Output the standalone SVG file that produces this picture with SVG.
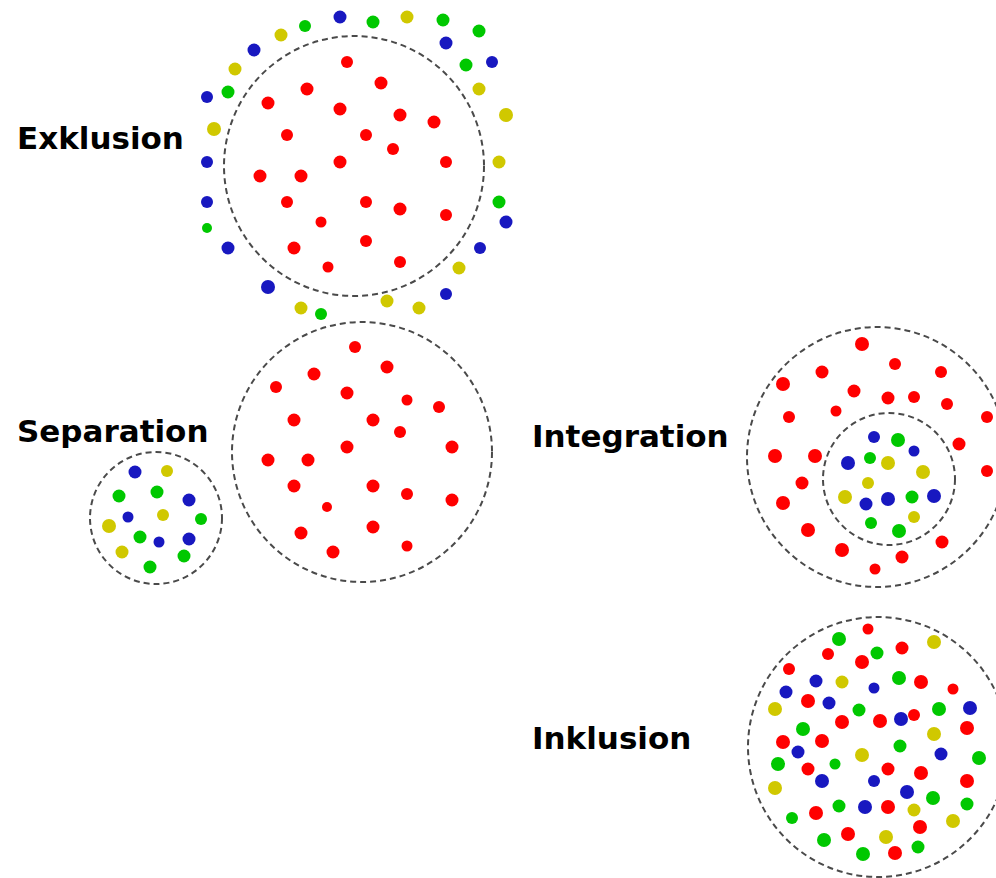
<svg xmlns="http://www.w3.org/2000/svg" width="996" height="878" viewBox="0 0 996 878">
<style>
.ring{fill:none;stroke:#4a4a4a;stroke-width:2;stroke-dasharray:6 4}
.lbl{font-family:"DejaVu Sans",sans-serif;font-weight:bold;font-size:31px;fill:#000}
.r{fill:#ff0000}.g{fill:#00c800}.b{fill:#1818c0}.y{fill:#d0c800}
circle.r,circle.g,circle.b,circle.y{stroke:none}
</style>
<rect width="996" height="878" fill="#fff"/>
<g id="exklusion">
<circle class="ring" cx="354" cy="166" r="130"/>
<text class="lbl" x="17" y="149">Exklusion</text>
<circle class="b" cx="340" cy="17" r="6.5"/><circle class="g" cx="373" cy="22" r="6.5"/><circle class="y" cx="407" cy="17" r="6.5"/><circle class="g" cx="443" cy="20" r="6.5"/><circle class="g" cx="479" cy="31" r="6.5"/><circle class="g" cx="305" cy="26" r="6"/><circle class="y" cx="281" cy="35" r="6.5"/><circle class="b" cx="254" cy="50" r="6.5"/><circle class="b" cx="446" cy="43" r="6.5"/><circle class="y" cx="235" cy="69" r="6.5"/><circle class="g" cx="466" cy="65" r="6.5"/><circle class="b" cx="492" cy="62" r="6"/><circle class="b" cx="207" cy="97" r="6"/><circle class="g" cx="228" cy="92" r="6.5"/><circle class="y" cx="479" cy="89" r="6.5"/><circle class="y" cx="506" cy="115" r="7"/><circle class="y" cx="214" cy="129" r="7"/><circle class="b" cx="207" cy="162" r="6"/><circle class="y" cx="499" cy="162" r="6.5"/><circle class="b" cx="207" cy="202" r="6"/><circle class="g" cx="499" cy="202" r="6.5"/><circle class="b" cx="506" cy="222" r="6.5"/><circle class="g" cx="207" cy="228" r="5"/><circle class="b" cx="228" cy="248" r="6.5"/><circle class="b" cx="480" cy="248" r="6"/><circle class="y" cx="459" cy="268" r="6.5"/><circle class="b" cx="268" cy="287" r="7"/><circle class="b" cx="446" cy="294" r="6"/><circle class="y" cx="387" cy="301" r="6.5"/><circle class="y" cx="301" cy="308" r="6.5"/><circle class="g" cx="321" cy="314" r="6"/><circle class="y" cx="419" cy="308" r="6.5"/>
<circle class="r" cx="347" cy="62" r="6"/><circle class="r" cx="381" cy="83" r="6.5"/><circle class="r" cx="307" cy="89" r="6.5"/><circle class="r" cx="268" cy="103" r="6.5"/><circle class="r" cx="340" cy="109" r="6.5"/><circle class="r" cx="400" cy="115" r="6.5"/><circle class="r" cx="434" cy="122" r="6.5"/><circle class="r" cx="287" cy="135" r="6"/><circle class="r" cx="366" cy="135" r="6"/><circle class="r" cx="393" cy="149" r="6"/><circle class="r" cx="340" cy="162" r="6.5"/><circle class="r" cx="446" cy="162" r="6"/><circle class="r" cx="260" cy="176" r="6.5"/><circle class="r" cx="301" cy="176" r="6.5"/><circle class="r" cx="287" cy="202" r="6"/><circle class="r" cx="366" cy="202" r="6"/><circle class="r" cx="400" cy="209" r="6.5"/><circle class="r" cx="446" cy="215" r="6"/><circle class="r" cx="321" cy="222" r="5.5"/><circle class="r" cx="366" cy="241" r="6"/><circle class="r" cx="294" cy="248" r="6.5"/><circle class="r" cx="400" cy="262" r="6"/><circle class="r" cx="328" cy="267" r="5.5"/>
</g>
<g id="separation">
<circle class="ring" cx="362" cy="452" r="130"/>
<circle class="ring" cx="156" cy="518" r="66"/>
<text class="lbl" x="17" y="442">Separation</text>
<circle class="r" cx="355" cy="347" r="6"/><circle class="r" cx="387" cy="367" r="6.5"/><circle class="r" cx="314" cy="374" r="6.5"/><circle class="r" cx="276" cy="387" r="6"/><circle class="r" cx="347" cy="393" r="6.5"/><circle class="r" cx="407" cy="400" r="5.5"/><circle class="r" cx="439" cy="407" r="6"/><circle class="r" cx="294" cy="420" r="6.5"/><circle class="r" cx="373" cy="420" r="6.5"/><circle class="r" cx="400" cy="432" r="6"/><circle class="r" cx="347" cy="447" r="6.5"/><circle class="r" cx="452" cy="447" r="6.5"/><circle class="r" cx="268" cy="460" r="6.5"/><circle class="r" cx="308" cy="460" r="6.5"/><circle class="r" cx="294" cy="486" r="6.5"/><circle class="r" cx="373" cy="486" r="6.5"/><circle class="r" cx="407" cy="494" r="6"/><circle class="r" cx="452" cy="500" r="6.5"/><circle class="r" cx="327" cy="507" r="5"/><circle class="r" cx="373" cy="527" r="6.5"/><circle class="r" cx="301" cy="533" r="6.5"/><circle class="r" cx="333" cy="552" r="6.5"/><circle class="r" cx="407" cy="546" r="5.5"/>
<circle class="b" cx="135" cy="472" r="6.5"/><circle class="y" cx="167" cy="471" r="6"/><circle class="g" cx="119" cy="496" r="6.5"/><circle class="g" cx="157" cy="492" r="6.5"/><circle class="b" cx="189" cy="500" r="6.5"/><circle class="b" cx="128" cy="517" r="5.5"/><circle class="y" cx="163" cy="515" r="6"/><circle class="g" cx="201" cy="519" r="6"/><circle class="y" cx="109" cy="526" r="7"/><circle class="g" cx="140" cy="537" r="6.5"/><circle class="b" cx="159" cy="542" r="5.5"/><circle class="b" cx="189" cy="539" r="6.5"/><circle class="y" cx="122" cy="552" r="6.5"/><circle class="g" cx="184" cy="556" r="6.5"/><circle class="g" cx="150" cy="567" r="6.5"/>
</g>
<g id="integration">
<circle class="ring" cx="877" cy="457" r="130"/>
<circle class="ring" cx="889" cy="479" r="66"/>
<text class="lbl" x="532" y="447">Integration</text>
<circle class="r" cx="862" cy="344" r="7"/><circle class="r" cx="895" cy="364" r="6"/><circle class="r" cx="822" cy="372" r="6.5"/><circle class="r" cx="941" cy="372" r="6"/><circle class="r" cx="783" cy="384" r="7"/><circle class="r" cx="854" cy="391" r="6.5"/><circle class="r" cx="888" cy="398" r="6.5"/><circle class="r" cx="914" cy="397" r="6"/><circle class="r" cx="947" cy="404" r="6"/><circle class="r" cx="836" cy="411" r="5.5"/><circle class="r" cx="789" cy="417" r="6"/><circle class="r" cx="987" cy="417" r="6"/><circle class="r" cx="959" cy="444" r="6.5"/><circle class="r" cx="775" cy="456" r="7"/><circle class="r" cx="815" cy="456" r="7"/><circle class="r" cx="987" cy="471" r="6"/><circle class="r" cx="802" cy="483" r="6.5"/><circle class="r" cx="783" cy="503" r="7"/><circle class="r" cx="808" cy="530" r="7"/><circle class="r" cx="842" cy="550" r="7"/><circle class="r" cx="942" cy="542" r="6.5"/><circle class="r" cx="902" cy="557" r="6.5"/><circle class="r" cx="875" cy="569" r="5.5"/>
<circle class="b" cx="874" cy="437" r="6"/><circle class="g" cx="898" cy="440" r="7"/><circle class="b" cx="914" cy="451" r="5.5"/><circle class="g" cx="870" cy="458" r="6"/><circle class="b" cx="848" cy="463" r="7"/><circle class="y" cx="888" cy="463" r="7"/><circle class="y" cx="923" cy="472" r="7"/><circle class="y" cx="868" cy="483" r="6"/><circle class="y" cx="845" cy="497" r="7"/><circle class="b" cx="888" cy="499" r="7"/><circle class="g" cx="912" cy="497" r="6.5"/><circle class="b" cx="934" cy="496" r="7"/><circle class="b" cx="866" cy="504" r="6.5"/><circle class="y" cx="914" cy="517" r="6"/><circle class="g" cx="871" cy="523" r="6"/><circle class="g" cx="899" cy="531" r="7"/>
</g>
<g id="inklusion">
<circle class="ring" cx="878" cy="747" r="130"/>
<text class="lbl" x="532" y="749">Inklusion</text>
<circle class="r" cx="868" cy="629" r="5.5"/><circle class="g" cx="839" cy="639" r="7"/><circle class="y" cx="934" cy="642" r="7"/><circle class="r" cx="902" cy="648" r="6.5"/><circle class="g" cx="877" cy="653" r="6.5"/><circle class="r" cx="828" cy="654" r="6"/><circle class="r" cx="862" cy="662" r="7"/><circle class="r" cx="789" cy="669" r="6"/><circle class="g" cx="899" cy="678" r="7"/><circle class="b" cx="816" cy="681" r="6.5"/><circle class="y" cx="842" cy="682" r="6.5"/><circle class="r" cx="921" cy="682" r="7"/><circle class="b" cx="874" cy="688" r="5.5"/><circle class="r" cx="953" cy="689" r="5.5"/><circle class="b" cx="786" cy="692" r="6.5"/><circle class="b" cx="829" cy="703" r="6.5"/><circle class="r" cx="808" cy="701" r="7"/><circle class="y" cx="775" cy="709" r="7"/><circle class="g" cx="859" cy="710" r="6.5"/><circle class="g" cx="939" cy="709" r="7"/><circle class="b" cx="970" cy="708" r="7"/><circle class="r" cx="914" cy="715" r="6"/><circle class="r" cx="842" cy="722" r="7"/><circle class="r" cx="880" cy="721" r="7"/><circle class="b" cx="901" cy="719" r="7"/><circle class="g" cx="803" cy="729" r="7"/><circle class="r" cx="967" cy="728" r="7"/><circle class="y" cx="934" cy="734" r="7"/><circle class="r" cx="783" cy="742" r="7"/><circle class="r" cx="822" cy="741" r="7"/><circle class="g" cx="900" cy="746" r="6.5"/><circle class="b" cx="798" cy="752" r="6.5"/><circle class="b" cx="941" cy="754" r="6.5"/><circle class="y" cx="862" cy="755" r="7"/><circle class="g" cx="979" cy="758" r="7"/><circle class="g" cx="778" cy="764" r="7"/><circle class="g" cx="835" cy="764" r="5.5"/><circle class="r" cx="808" cy="769" r="6.5"/><circle class="r" cx="888" cy="769" r="6.5"/><circle class="r" cx="921" cy="773" r="7"/><circle class="b" cx="822" cy="781" r="7"/><circle class="b" cx="874" cy="781" r="6"/><circle class="r" cx="967" cy="781" r="7"/><circle class="y" cx="775" cy="788" r="7"/><circle class="b" cx="907" cy="792" r="7"/><circle class="g" cx="933" cy="798" r="7"/><circle class="g" cx="839" cy="806" r="6.5"/><circle class="b" cx="865" cy="807" r="7"/><circle class="r" cx="888" cy="807" r="7"/><circle class="y" cx="914" cy="810" r="6.5"/><circle class="g" cx="967" cy="804" r="6.5"/><circle class="g" cx="792" cy="818" r="6"/><circle class="r" cx="816" cy="813" r="7"/><circle class="y" cx="953" cy="821" r="7"/><circle class="r" cx="920" cy="827" r="7"/><circle class="r" cx="848" cy="834" r="7"/><circle class="y" cx="886" cy="837" r="7"/><circle class="g" cx="824" cy="840" r="7"/><circle class="g" cx="918" cy="847" r="6.5"/><circle class="g" cx="863" cy="854" r="7"/><circle class="r" cx="895" cy="853" r="7"/>
</g>
</svg>
